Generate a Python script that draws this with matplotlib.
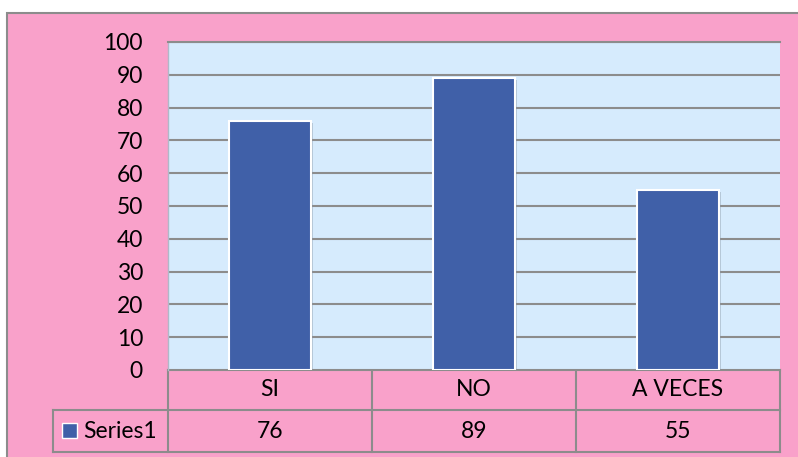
import matplotlib
matplotlib.use("Agg")
import matplotlib.pyplot as plt
from matplotlib.patches import Rectangle
import matplotlib.patheffects as pe

# data
categorias = ["SI", "NO", "A VECES"]
valores = [76, 89, 55]
serie = "Series1"
yticks = list(range(0, 101, 10))

W, H = 798, 457
rosa = "#F9A1CA"
celeste = "#D6EBFD"
azul = "#4060A8"
gris = "#8C8C8C"
fs = 16.5
plt.rcParams['font.family'] = ['Lato', 'DejaVu Sans']

fig = plt.figure(figsize=(W / 100, H / 100), dpi=100)
fig.patch.set_facecolor("white")

# fondo (coordenadas en pixeles)
bg = fig.add_axes([0, 0, 1, 1], zorder=0)
bg.set_xlim(0, W)
bg.set_ylim(H, 0)
bg.axis("off")
bg.add_patch(Rectangle((7, 13), W + 50, H + 50, facecolor=rosa, edgecolor=gris, lw=1.5))

# area de grafico
x0, x1, y0, y1 = 168, 780, 42, 370
ax = fig.add_axes([x0 / W, 1 - y1 / H, (x1 - x0) / W, (y1 - y0) / H], zorder=1)
ax.set_facecolor(celeste)
pos = range(len(categorias))
ax.bar(pos, valores, width=0.4, color=azul, edgecolor="white", linewidth=1.5, zorder=3,
       path_effects=[pe.SimplePatchShadow(offset=(1.5, -1.5), shadow_rgbFace="#8090a0", alpha=0.4),
                     pe.Normal()])
ax.set_xlim(-0.5, len(categorias) - 0.5)
ax.set_ylim(0, 100)
ax.set_yticks(yticks)
ax.yaxis.grid(True, color=gris, lw=1.5, zorder=1)
ax.set_axisbelow(True)
ax.set_xticks([])
ax.tick_params(axis="y", length=0, pad=18, labelsize=fs)
for s in ["right", "bottom"]:
    ax.spines[s].set_visible(False)
ax.spines["top"].set_color(gris)
ax.spines["top"].set_linewidth(1.5)
ax.spines["left"].set_color("#b0b8c8")
ax.spines["left"].set_linewidth(1)

# tabla de datos
r0, r1, r2 = 370, 410, 452
leg_x = 53
colw = (x1 - x0) / len(categorias)
kw = dict(color=gris, lw=1.5, zorder=2)
bg.plot([x0, x1], [r0, r0], **kw)
bg.plot([leg_x, x1], [r1, r1], **kw)
bg.plot([leg_x, x1], [r2, r2], **kw)
bg.plot([leg_x, leg_x], [r1, r2], **kw)
bg.plot([x0, x0], [r0, r2], **kw)
for i in range(len(categorias)):
    xr = x0 + (i + 1) * colw
    bg.plot([xr, xr], [r0, r2], **kw)
    xc = x0 + (i + 0.5) * colw
    bg.text(xc, (r0 + r1) / 2, categorias[i], ha="center", va="center", fontsize=fs)
    bg.text(xc, (r1 + r2) / 2, str(valores[i]), ha="center", va="center", fontsize=fs)

bg.add_patch(Rectangle((62, 423), 15, 15, facecolor=azul, edgecolor="white", lw=1, zorder=3))
bg.text(83, (r1 + r2) / 2, serie, ha="left", va="center", fontsize=fs)

fig.savefig("out.png", dpi=100)
